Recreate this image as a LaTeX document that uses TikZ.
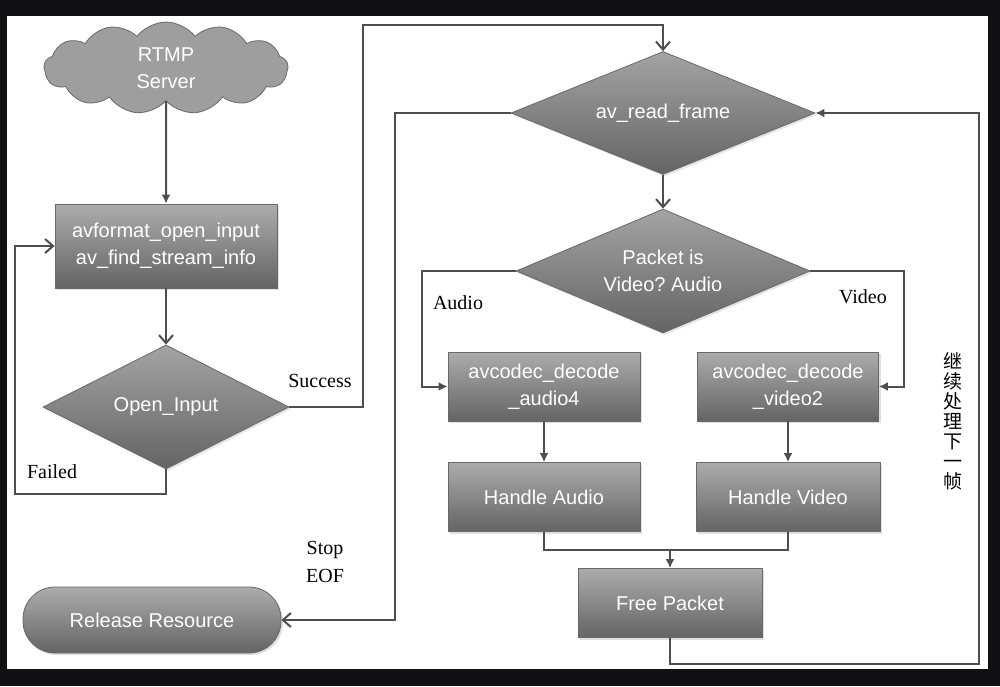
\documentclass[tikz,border=0pt]{standalone}
\usepackage{fontspec}
\setmainfont{Liberation Serif}
\setsansfont{Liberation Sans}
\newfontfamily\cjk{Noto Sans CJK SC}
\usetikzlibrary{shapes.geometric, shapes.symbols, arrows.meta, shadows}

\definecolor{pagebg}{RGB}{16,17,20}
\definecolor{linegray}{RGB}{78,78,78}
\definecolor{shadetop}{RGB}{172,172,172}
\definecolor{shadebot}{RGB}{100,100,100}
\definecolor{edgegray}{RGB}{105,105,105}

\begin{document}
\begin{tikzpicture}[x=0.5pt, y=-0.5pt,
    nodetext/.style={text=white, font=\sffamily\frenchspacing\fontsize{10}{13.5}\selectfont, align=center},
    proc/.style={rectangle, nodetext, draw=edgegray, top color=shadetop, bottom color=shadebot,
        inner sep=0pt, drop shadow={opacity=0.25, shadow xshift=1pt, shadow yshift=-1pt}},
    decision/.style={diamond, aspect=2.4, nodetext, draw=edgegray, top color=shadetop!95!black, bottom color=shadebot,
        inner sep=0pt, drop shadow={opacity=0.2, shadow xshift=1pt, shadow yshift=-1pt}},
    server/.style={cloud, nodetext, draw=edgegray, fill=gray!76, cloud puffs=13, cloud puff arc=105,
        aspect=2.7, inner sep=0pt},
    flow/.style={draw=linegray, line width=1pt},
    chev/.style={flow, -{Straight Barb[length=4pt, width=7pt]}},
    tri/.style={flow, -{Latex[length=4.5pt, width=4.5pt]}},
    lbl/.style={font=\fontsize{10}{14}\selectfont, align=center}
]
    % Page
    \fill[pagebg] (0,0) rectangle (1000,686);
    \fill[white] (7,16) rectangle (988,669);

    % Open input
    \node[server, minimum width=122pt, minimum height=46pt] (rtmp) at (166,68) {RTMP\\Server};
    \node[proc, minimum width=111pt, minimum height=42pt] (open) at (166,246) {avformat\_open\_input\\av\_find\_stream\_info};
    \node[decision, minimum width=123pt, minimum height=62pt] (chk) at (166,407) {Open\_Input};
    \node[proc, rounded corners=16pt, minimum width=129pt, minimum height=33pt] (rel) at (152,620) {Release Resource};

    % Read loop
    \node[decision, minimum width=152pt, minimum height=61.5pt] (rd) at (663,113) {av\_read\_frame};
    \node[decision, minimum width=147pt, minimum height=62pt] (pkt) at (663,271) {Packet is\\Video? Audio};
    \node[proc, minimum width=96pt, minimum height=34.5pt] (deca) at (544,386.5) {avcodec\_decode\\\_audio4};
    \node[proc, minimum width=90.5pt, minimum height=34.5pt] (decv) at (788,386.5) {avcodec\_decode\\\_video2};
    \node[proc, minimum width=96pt, minimum height=34.5pt] (hnda) at (544,497) {Handle Audio};
    \node[proc, minimum width=92pt, minimum height=34.5pt] (hndv) at (788,497) {Handle Video};
    \node[proc, minimum width=92pt, minimum height=34.5pt] (free) at (670,603) {Free Packet};

    % Labels
    \node[lbl] (succ) at (320,381) {Success};
    \node[lbl] (fail) at (52,472) {Failed};
    \node[lbl] (stop) at (325,562) {Stop\\EOF};
    \node[lbl] (aud) at (458,303) {Audio};
    \node[lbl] (vid) at (863,297) {Video};
    \node[font=\cjk\fontsize{9.5}{10}\selectfont, align=center] (next) at (953,421) {继\\续\\处\\理\\下\\一\\帧};

    % Bends
    \coordinate (fl) at (15,494);
    \coordinate (sc) at (363,25);
    \coordinate (st) at (395,400);
    \coordinate (au) at (422,300);
    \coordinate (vi) at (904,300);
    \coordinate (jn) at (670,550);
    \coordinate (lp) at (979,664);

    % Connectors
    \draw[tri] (rtmp.south) -- (open.north);
    \draw[chev] (open.south) -- (chk.north);
    \draw[chev] (chk.south) |- (fl) |- (open.west);
    \draw[chev] (chk.east) -| (sc) -| (rd.north);
    \draw[chev] (rd.west) -| (st) |- (rel.east);
    \draw[chev] (rd.south) -- (pkt.north);
    \draw[tri] (pkt.west) -| (au) |- (deca.west);
    \draw[tri] (pkt.east) -| (vi) |- (decv.east);
    \draw[tri] (deca.south) -- (hnda.north);
    \draw[tri] (decv.south) -- (hndv.north);
    \draw[flow] (hnda.south) |- (jn) -| (hndv.south);
    \draw[tri] (jn) -- (free.north);
    \draw[tri] (free.south) |- (lp) |- (rd.east);
\end{tikzpicture}
\end{document}
